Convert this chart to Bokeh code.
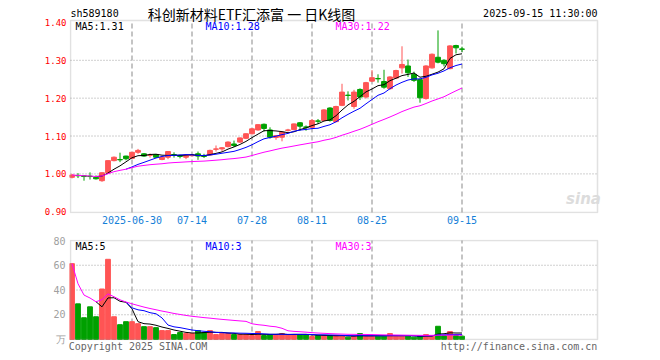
import numpy as np
from bokeh.plotting import figure
from bokeh.models import ColumnDataSource, FixedTicker, Label, Range1d, BoxAnnotation
from bokeh.layouts import column
from bokeh.embed import file_html
from bokeh.resources import INLINE

# ---------------- data ----------------
opens = [0.991, 0.996, 0.995, 0.994, 0.991, 0.982, 1.003, 1.035, 1.038, 1.047,
         1.041, 1.057, 1.053, 1.049, 1.051, 1.038, 1.044, 1.051, 1.049, 1.044,
         1.048, 1.053, 1.048, 1.050, 1.065, 1.066, 1.072, 1.079, 1.084, 1.094,
         1.106, 1.116, 1.131, 1.116, 1.096, 1.097, 1.115, 1.117, 1.135, 1.124,
         1.123, 1.140, 1.141, 1.174, 1.138, 1.181, 1.208, 1.178, 1.223, 1.203,
         1.245, 1.252, 1.244, 1.225, 1.253, 1.280, 1.285, 1.263, 1.249, 1.199,
         1.280, 1.308, 1.300, 1.278, 1.339, 1.330]
highs = [1.000, 1.002, 0.997, 1.004, 0.996, 1.004, 1.036, 1.046, 1.056, 1.048,
         1.058, 1.066, 1.055, 1.054, 1.052, 1.045, 1.060, 1.057, 1.051, 1.051,
         1.052, 1.059, 1.053, 1.064, 1.075, 1.071, 1.086, 1.088, 1.096, 1.107,
         1.120, 1.131, 1.133, 1.123, 1.102, 1.111, 1.119, 1.133, 1.137, 1.128,
         1.145, 1.145, 1.171, 1.176, 1.180, 1.238, 1.218, 1.222, 1.226, 1.243,
         1.274, 1.263, 1.275, 1.258, 1.275, 1.337, 1.302, 1.270, 1.252, 1.287,
         1.318, 1.379, 1.303, 1.340, 1.341, 1.336]
lows = [0.988, 0.989, 0.982, 0.985, 0.985, 0.979, 1.001, 1.033, 1.031, 1.036,
        1.040, 1.053, 1.045, 1.043, 1.042, 1.036, 1.039, 1.043, 1.041, 1.039,
        1.046, 1.037, 1.042, 1.048, 1.059, 1.059, 1.070, 1.071, 1.082, 1.092,
        1.104, 1.114, 1.112, 1.093, 1.090, 1.086, 1.112, 1.115, 1.114, 1.114,
        1.121, 1.132, 1.139, 1.138, 1.136, 1.179, 1.194, 1.172, 1.195, 1.199,
        1.243, 1.241, 1.225, 1.222, 1.251, 1.265, 1.256, 1.243, 1.188, 1.196,
        1.278, 1.292, 1.284, 1.276, 1.318, 1.322]
closes = [0.997, 0.995, 0.993, 0.993, 0.987, 1.003, 1.035, 1.044, 1.037, 1.040,
          1.057, 1.062, 1.047, 1.050, 1.044, 1.044, 1.059, 1.050, 1.046, 1.050,
          1.050, 1.047, 1.046, 1.062, 1.066, 1.069, 1.084, 1.075, 1.095, 1.106,
          1.119, 1.130, 1.120, 1.097, 1.101, 1.110, 1.116, 1.132, 1.126, 1.123,
          1.141, 1.139, 1.169, 1.141, 1.178, 1.216, 1.207, 1.216, 1.203, 1.241,
          1.254, 1.251, 1.229, 1.256, 1.273, 1.289, 1.267, 1.247, 1.201, 1.285,
          1.316, 1.295, 1.291, 1.338, 1.333, 1.329]
volumes = [61.3, 28.8, 17.6, 26.4, 18.4, 40.8, 64.8, 18.4, 12.0, 14.4,
           14.4, 12.8, 10.4, 10.4, 9.6, 7.2, 7.2, 4.0, 5.6, 4.8,
           4.8, 7.2, 5.6, 7.2, 4.0, 4.8, 4.8, 4.0, 4.0, 4.0,
           3.2, 6.4, 3.2, 4.0, 4.0, 4.8, 4.0, 4.0, 4.0, 4.0,
           2.4, 3.2, 3.2, 3.2, 3.2, 2.7, 1.9, 2.7, 4.8, 2.7,
           2.7, 2.7, 2.7, 4.8, 2.7, 2.7, 2.7, 1.9, 2.7, 4.0,
           2.7, 10.7, 3.2, 6.4, 3.2, 2.7]
date_tick_index = [10, 20, 30, 40, 50, 65]
date_tick_labels = ["2025-06-30", "07-14", "07-28", "08-11", "08-25", "09-15"]
price_ticks = [0.90, 1.00, 1.10, 1.20, 1.30, 1.40]
price_grid = [1.00, 1.10, 1.20, 1.30]
vol_ticks = [0, 20, 40, 60, 80]
vol_tick_labels = ["万", "20", "40", "60", "80"]
vol_grid = [20, 40, 60]
title_text = "科创新材料ETF汇添富 一 日K线图"
code_text = "sh589180"
time_text = "2025-09-15 11:30:00"
price_ma_texts = ["MA5:1.31", "MA10:1.28", "MA30:1.22"]
vol_ma_texts = ["MA5:5", "MA10:3", "MA30:3"]
footer_texts = ["Copyright 2025 SINA.COM", "http://finance.sina.com.cn"]

RED = "#ff5454"
GREEN = "#00a000"
MA_COLORS = ["black", "#0000ff", "#ff00ff"]
MONO = "DejaVu Sans Mono"
BOX = "#9a9a9a"


def moving_avg(vals, n, partial=False):
    out = []
    for i in range(len(vals)):
        if i < n - 1:
            out.append(float(np.mean(vals[:i + 1])) if partial else np.nan)
        else:
            out.append(float(np.mean(vals[i - n + 1:i + 1])))
    return out


idx = list(range(len(closes)))
colors = [RED if c >= o else GREEN for o, c in zip(opens, closes)]
src = ColumnDataSource(dict(
    x=idx, o=opens, h=highs, l=lows, c=closes, v=volumes, color=colors,
    top=[max(o, c) for o, c in zip(opens, closes)],
    bot=[min(o, c) for o, c in zip(opens, closes)],
    ma5=moving_avg(closes, 5), ma10=moving_avg(closes, 10),
    ma30=moving_avg(closes, 30, partial=True),
    vma5=moving_avg(volumes, 5), vma10=moving_avg(volumes, 10),
    vma30=moving_avg(volumes, 30, partial=True),
))

# ---------------- geometry ----------------
FIG_W = 605
FR_L = 69            # plot frame left (window px); the drawn box starts at 70
BOX_W = 527          # drawn box 70..597
SLOT = 6.0           # px per trading day
bx0 = -0.25          # data x at the box's left edge
bx1 = bx0 + BOX_W / SLOT
x_rng = Range1d(bx0 - 1 / SLOT, bx0 - 1 / SLOT + (FIG_W - FR_L) / SLOT)

# price panel: frame window y 0..213, box 20..212
P_PX = 378.6                     # px per 1.0 of price
p_box_lo, p_box_hi = 0.898, 1.405
p_lo = p_box_lo - 1 / P_PX
p_hi = p_lo + 213 / P_PX
# volume panel: frame window y 239..341, box 240..340
V_PX = 1.25
v_box_lo, v_box_hi = 0, 80
v_lo = v_box_lo - 1 / V_PX
v_hi = v_box_hi + 1 / V_PX


def base_style(p):
    p.outline_line_color = None
    p.grid.visible = False
    for ax in p.axis:
        ax.axis_line_color = None
        ax.major_tick_line_color = None
        ax.minor_tick_line_color = None
        ax.major_tick_out = 0
        ax.major_tick_in = 0
        ax.minor_tick_out = 0
        ax.minor_tick_in = 0


def grid_and_box(p, ygrid, ylo, yhi):
    n = len(date_tick_index)
    p.segment(x0=date_tick_index, y0=[ylo] * n, x1=date_tick_index, y1=[yhi] * n,
              line_color="#b0b0b0", line_dash="5 3", line_width=1.5)
    m = len(ygrid)
    p.segment(x0=[bx0] * m, y0=ygrid, x1=[bx1] * m, y1=ygrid,
              line_color="#a0a0a0", line_dash="1 2", line_width=1)
    p.add_layout(BoxAnnotation(left=bx0, right=bx1, bottom=ylo, top=yhi,
                               fill_color=None, fill_alpha=0, line_color=BOX,
                               line_width=1.5))


def lab(p, text, x, y, color="black", align="left", font=MONO, size="10px", **kw):
    p.add_layout(Label(x=x, y=y, x_units="screen", y_units="screen", text=text,
                       text_color=color, text_align=align, text_baseline="middle",
                       text_font=font, text_font_size=size, **kw))


# ---------------- price panel ----------------
p1 = figure(width=FIG_W, height=235, output_backend="svg", toolbar_location=None,
            x_range=x_rng, y_range=Range1d(p_lo, p_hi),
            min_border_left=FR_L, min_border_right=0, min_border_top=0,
            min_border_bottom=22, title=None)
base_style(p1)
p1.yaxis.ticker = FixedTicker(ticks=price_ticks)
p1.yaxis.major_label_overrides = {t: f"{t:.2f}" for t in price_ticks}
p1.yaxis.major_label_text_color = "#ff0000"
p1.yaxis.major_label_text_font = MONO
p1.yaxis.major_label_text_font_size = "9px"
p1.yaxis.major_label_standoff = 3
p1.xaxis.ticker = FixedTicker(ticks=date_tick_index)
p1.xaxis.major_label_overrides = dict(zip(date_tick_index, date_tick_labels))
p1.xaxis.major_label_text_color = "#1580d8"
p1.xaxis.major_label_text_font = MONO
p1.xaxis.major_label_text_font_size = "10px"
p1.xaxis.major_label_standoff = 2

grid_and_box(p1, price_grid, p_box_lo, p_box_hi)
p1.segment(x0="x", y0="l", x1="x", y1="h", color="color", line_width=1, source=src)
p1.vbar(x="x", top="top", bottom="bot", width=0.8, fill_color="color",
        line_color="color", line_width=1, source=src)
for col, c in zip(["ma5", "ma10", "ma30"], MA_COLORS):
    p1.line("x", col, color=c, line_width=1, source=src)

# screen coords relative to frame (left = window x 69, bottom = window y 213)
FB1 = 213
lab(p1, code_text, 70 - FR_L, FB1 - 13)
lab(p1, title_text, 251 - FR_L, FB1 - 13, font="Noto Sans CJK SC", size="14px",
    align="center")
lab(p1, time_text, 597 - FR_L, FB1 - 13, align="right")
for t, xs, c in zip(price_ma_texts, [75, 205, 335], MA_COLORS):
    lab(p1, t, xs - FR_L, FB1 - 26, color=c)
lab(p1, "sina", 583 - FR_L, FB1 - 198, color="#dcdcdc", align="center",
    font="DejaVu Sans", size="15px", text_font_style="bold italic")

# ---------------- volume panel ----------------
p2 = figure(width=FIG_W, height=119, output_backend="svg", toolbar_location=None,
            x_range=x_rng, y_range=Range1d(v_lo, v_hi),
            min_border_left=FR_L, min_border_right=0, min_border_top=4,
            min_border_bottom=13, title=None)
base_style(p2)
p2.yaxis.ticker = FixedTicker(ticks=vol_ticks)
p2.yaxis.major_label_overrides = dict(zip(vol_ticks, vol_tick_labels))
p2.yaxis.major_label_text_color = "#a0a0a0"
p2.yaxis.major_label_text_font = MONO
p2.yaxis.major_label_text_font_size = "10px"
p2.yaxis.major_label_standoff = 4
foot_ticks = [bx0 + (137.5 - 70) / SLOT, bx0 + (518.5 - 70) / SLOT]
p2.xaxis.ticker = FixedTicker(ticks=foot_ticks)
p2.xaxis.major_label_overrides = dict(zip(foot_ticks, footer_texts))
p2.xaxis.major_label_text_color = "#666666"
p2.xaxis.major_label_text_font = MONO
p2.xaxis.major_label_text_font_size = "10px"
p2.xaxis.major_label_standoff = 0

grid_and_box(p2, vol_grid, v_box_lo, v_box_hi)
p2.vbar(x="x", top="v", bottom=0, width=0.8, fill_color="color",
        line_color="color", line_width=1, source=src)
for col, c in zip(["vma5", "vma10", "vma30"], MA_COLORS):
    p2.line("x", col, color=c, line_width=1, source=src)

FB2 = 341
for t, xs, c in zip(vol_ma_texts, [75, 205, 335], MA_COLORS):
    lab(p2, t, xs - FR_L, FB2 - 246.5, color=c)

layout = column(p1, p2, spacing=0)
open("out.html", "w").write(file_html(layout, INLINE))
